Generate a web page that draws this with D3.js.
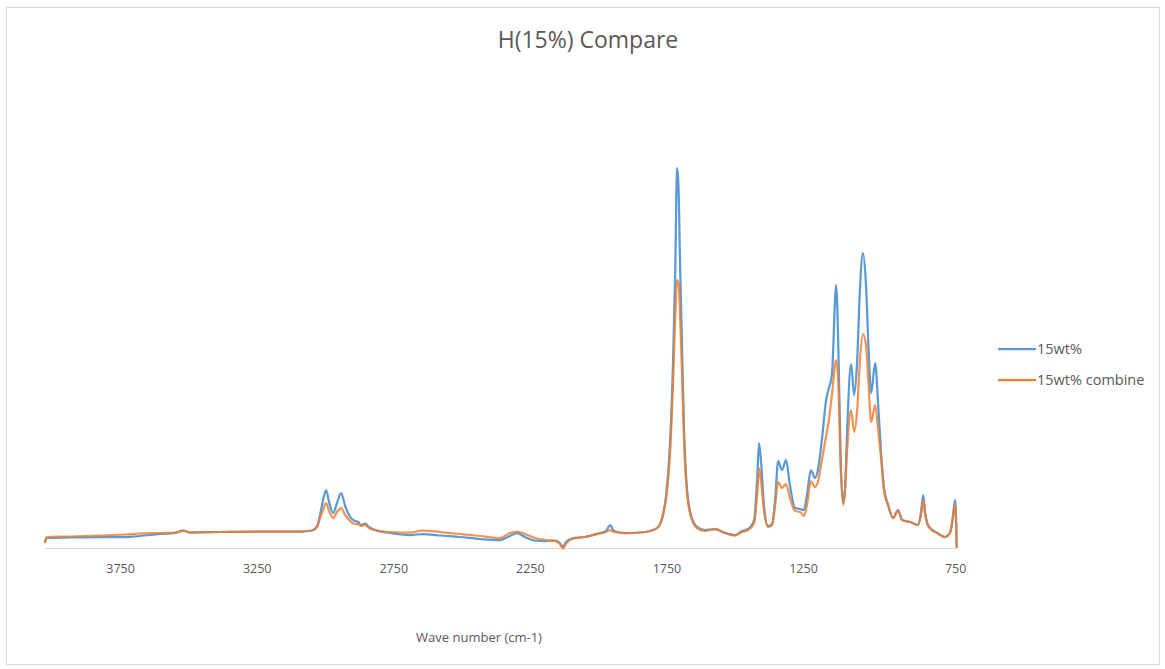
<!DOCTYPE html>
<html>
<head>
<meta charset="utf-8">
<script src="https://cdn.jsdelivr.net/npm/d3@7"></script>
<style>
  html, body { margin: 0; padding: 0; background: #fff; }
  svg { display: block; font-family: "Open Sans", "Noto Sans", sans-serif; }
</style>
</head>
<body>
<svg id="chart" width="1165" height="669"></svg>
<script>
// FTIR spectra: wavenumber (cm-1) and absorbance for both samples
const wavenumber = [4025, 4019, 3933, 3823, 3732, 3677, 3604, 3549, 3519, 3494, 3384, 3238, 3091, 3047, 3029, 3018, 3007, 2996, 2985, 2970, 2956, 2941, 2926, 2908, 2890, 2879, 2868, 2853, 2839, 2817, 2762, 2689, 2641, 2579, 2506, 2432, 2359, 2323, 2297, 2268, 2231, 2194, 2158, 2140, 2129, 2118, 2096, 2048, 2000, 1971, 1956, 1942, 1902, 1847, 1810, 1784, 1766, 1751, 1737, 1726, 1718, 1711, 1706, 1700, 1693, 1686, 1675, 1660, 1638, 1609, 1572, 1535, 1499, 1473, 1451, 1429, 1418, 1411, 1404, 1393, 1378, 1363, 1352, 1341, 1327, 1312, 1298, 1279, 1261, 1247, 1237, 1224, 1211, 1201, 1188, 1174, 1165, 1155, 1141, 1133, 1127, 1118, 1112, 1105, 1092, 1082, 1072, 1063, 1053, 1043, 1035, 1026, 1013, 1003, 993, 984, 970, 954, 938, 924, 898, 872, 862, 855, 849, 836, 809, 783, 766, 757, 750, 745];

const abs15wt = [0.012, 0.020, 0.021, 0.022, 0.022, 0.024, 0.028, 0.030, 0.035, 0.031, 0.032, 0.033, 0.033, 0.035, 0.044, 0.066, 0.096, 0.116, 0.092, 0.070, 0.090, 0.110, 0.084, 0.062, 0.054, 0.052, 0.046, 0.049, 0.042, 0.036, 0.030, 0.026, 0.028, 0.025, 0.022, 0.018, 0.016, 0.024, 0.030, 0.022, 0.015, 0.014, 0.015, 0.010, 0.002, 0.012, 0.019, 0.022, 0.029, 0.034, 0.046, 0.034, 0.030, 0.031, 0.034, 0.040, 0.060, 0.106, 0.206, 0.366, 0.546, 0.760, 0.726, 0.566, 0.406, 0.246, 0.120, 0.066, 0.042, 0.036, 0.038, 0.030, 0.026, 0.034, 0.038, 0.056, 0.136, 0.210, 0.176, 0.086, 0.044, 0.048, 0.096, 0.174, 0.156, 0.176, 0.126, 0.080, 0.078, 0.076, 0.106, 0.156, 0.140, 0.156, 0.216, 0.296, 0.320, 0.346, 0.526, 0.376, 0.196, 0.090, 0.116, 0.236, 0.368, 0.306, 0.376, 0.516, 0.590, 0.526, 0.406, 0.310, 0.370, 0.286, 0.186, 0.120, 0.086, 0.060, 0.076, 0.056, 0.052, 0.046, 0.072, 0.106, 0.072, 0.042, 0.030, 0.022, 0.032, 0.066, 0.096, 0.002];

const abs15wtCombine = [0.012, 0.022, 0.023, 0.025, 0.027, 0.029, 0.030, 0.031, 0.035, 0.031, 0.032, 0.033, 0.033, 0.035, 0.042, 0.060, 0.076, 0.090, 0.074, 0.060, 0.072, 0.080, 0.066, 0.054, 0.048, 0.048, 0.044, 0.046, 0.040, 0.036, 0.032, 0.031, 0.035, 0.032, 0.028, 0.024, 0.020, 0.030, 0.033, 0.028, 0.020, 0.016, 0.014, 0.008, -0.001, 0.008, 0.018, 0.022, 0.028, 0.032, 0.036, 0.032, 0.030, 0.031, 0.034, 0.040, 0.058, 0.100, 0.186, 0.326, 0.456, 0.536, 0.532, 0.466, 0.352, 0.220, 0.112, 0.062, 0.040, 0.034, 0.038, 0.030, 0.025, 0.032, 0.036, 0.050, 0.106, 0.160, 0.136, 0.076, 0.042, 0.046, 0.086, 0.132, 0.120, 0.128, 0.100, 0.074, 0.072, 0.064, 0.086, 0.134, 0.122, 0.132, 0.176, 0.224, 0.256, 0.306, 0.376, 0.316, 0.176, 0.086, 0.116, 0.196, 0.276, 0.232, 0.276, 0.376, 0.428, 0.406, 0.332, 0.252, 0.286, 0.236, 0.176, 0.116, 0.084, 0.060, 0.074, 0.056, 0.052, 0.046, 0.068, 0.096, 0.068, 0.042, 0.030, 0.022, 0.032, 0.062, 0.088, 0.002];

const seriesNames = ["15wt%", "15wt% combine"];
const seriesColors = ["#5B9BD5", "#ED7D31"];
const xTicks = [3750, 3250, 2750, 2250, 1750, 1250, 750];

const chartTitle = "H(15%) Compare";
const xAxisTitle = "Wave number (cm-1)";

const svg = d3.select("#chart");

// chart area frame
svg.append("rect")
  .attr("x", 6.5).attr("y", 7.5)
  .attr("width", 1153).attr("height", 657)
  .attr("fill", "#fff").attr("stroke", "#d9d9d9").attr("stroke-width", 1);

const plot = { left: 45, mid: 803, right: 957, top: 98, bottom: 548 };

// wavenumber axis runs high to low; the low-wavenumber end is stretched
const x = d3.scaleLinear()
  .domain([4025, 1250, 744])
  .range([plot.left, plot.mid, plot.right]);
const y = d3.scaleLinear().domain([0, 0.9]).range([plot.bottom, plot.top]);

// horizontal axis
const xAxis = d3.axisBottom(x).tickValues(xTicks).tickSize(0).tickPadding(16)
  .tickFormat(d3.format("d"));
const gx = svg.append("g").attr("transform", `translate(0,${plot.bottom})`).call(xAxis);
gx.select(".domain").attr("stroke", "#d9d9d9").attr("stroke-width", 1.2);
gx.selectAll(".tick text")
  .attr("fill", "#595959").attr("font-size", 12.5)
  .attr("font-family", "'Open Sans', sans-serif");

// spectra
const series = [abs15wt, abs15wtCombine].map((vals, i) => ({
  name: seriesNames[i],
  color: seriesColors[i],
  points: wavenumber.map((w, j) => ({ w, a: vals[j] }))
}));

const line = d3.line()
  .x(d => x(d.w))
  .y(d => y(d.a))
  .curve(d3.curveMonotoneX);

svg.append("g").selectAll("path")
  .data(series)
  .join("path")
  .attr("d", d => line(d.points))
  .attr("fill", "none")
  .attr("stroke", d => d.color)
  .attr("stroke-opacity", (d, i) => i === 1 ? 0.82 : 1)
  .attr("stroke-width", 2.25)
  .attr("stroke-linejoin", "round")
  .attr("stroke-linecap", "round");

// title
svg.append("text")
  .attr("x", 588).attr("y", 48)
  .attr("text-anchor", "middle")
  .attr("fill", "#595959")
  .attr("font-size", 23)
  .text(chartTitle);

// axis title
svg.append("text")
  .attr("x", 479).attr("y", 642)
  .attr("text-anchor", "middle")
  .attr("fill", "#595959")
  .attr("font-size", 13)
  .text(xAxisTitle);

// legend
const legend = svg.append("g").selectAll("g")
  .data(series)
  .join("g")
  .attr("transform", (d, i) => `translate(998,${349 + i * 31})`);
legend.append("line")
  .attr("x1", 0).attr("x2", 38).attr("y1", 0).attr("y2", 0)
  .attr("stroke", d => d.color).attr("stroke-width", 2.25);
legend.append("text")
  .attr("x", 39).attr("y", 5)
  .attr("fill", "#595959").attr("font-size", 14.5)
  .text(d => d.name);
</script>
</body>
</html>
